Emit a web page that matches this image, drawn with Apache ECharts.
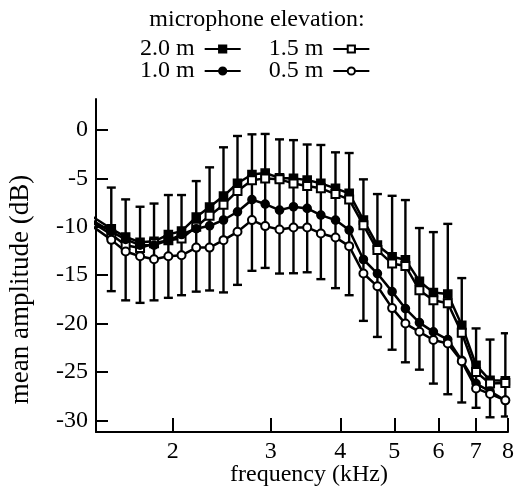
<!DOCTYPE html>
<html>
<head>
<meta charset="utf-8">
<script src="https://cdn.jsdelivr.net/npm/echarts@6/dist/echarts.min.js"></script>
<style>
html,body{margin:0;padding:0;background:#fff;}
#chart{width:514px;height:489px;}
</style>
</head>
<body>
<div id="chart"></div>
<script>
// frequencies (kHz) of the measurement points; first one lies just left of the axis
const freqs = [1.44, 1.552, 1.647, 1.748, 1.852, 1.965, 2.075, 2.205, 2.330, 2.468, 2.615, 2.776, 2.932, 3.111, 3.296,
  3.488, 3.691, 3.921, 4.149, 4.401, 4.663, 4.955, 5.235, 5.547, 5.877, 6.237, 6.608, 7.011, 7.428, 7.913];
const elev20 = [-9.0, -10.2, -11.05, -11.6, -11.5, -10.8, -10.45, -9.0, -7.95, -6.83, -5.5, -4.6, -4.45, -4.95, -5.0,
  -5.17, -5.52, -6.03, -6.55, -9.31, -11.9, -13.1, -13.4, -15.62, -16.8, -16.95, -20.17, -24.3, -25.86, -25.9];
const elev15 = [-9.6, -10.8, -11.9, -12.2, -11.7, -11.4, -11.2, -10.0, -8.85, -7.72, -6.3, -5.2, -5.0, -5.1, -5.52,
  -5.79, -6.03, -6.62, -7.17, -9.83, -12.41, -13.8, -14.05, -16.55, -17.6, -17.9, -20.96, -25.0, -26.2, -26.15];
const elev10 = [-9.4, -10.5, -11.3, -11.9, -11.9, -11.4, -10.8, -10.2, -9.9, -9.3, -8.45, -7.2, -7.65, -8.28, -7.93,
  -8.1, -8.79, -9.31, -10.34, -13.38, -14.83, -16.7, -18.45, -19.9, -20.86, -21.65, -23.8, -26.2, -27.0, -27.93];
const elev05 = [-10.0, -11.35, -12.55, -13.05, -13.35, -13.05, -12.95, -12.15, -12.15, -11.38, -10.52, -9.31, -9.93, -10.28, -10.07,
  -10.07, -10.69, -11.1, -12.0, -14.83, -16.15, -18.4, -20.0, -20.85, -21.7, -22.05, -23.9, -26.7, -27.27, -27.93];
// error bars (for the visible points, index 1..29)
const errHigh = [-5.95, -7.17, -7.93, -7.6, -6.72, -6.72, -5.28, -3.86, -1.79, -0.62, -0.45, -0.41, -0.97, -1.05, -1.5,
  -1.55, -2.31, -2.38, -5.1, -6.62, -6.8, -7.24, -10.13, -10.55, -9.7, -15.3, -20.5, -21.65, -21.0];
const errLow = [-16.65, -17.6, -17.86, -17.6, -17.34, -17.07, -16.7, -16.58, -16.78, -16.0, -14.55, -14.25, -14.83, -14.8, -14.7,
  -15.41, -16.34, -17.07, -19.72, -21.38, -22.7, -24.0, -24.76, -26.2, -27.3, -28.15, -28.7, -29.68, -29.6];
const xTicks = [2, 3, 4, 5, 6, 7, 8];
const yTicks = [-30, -25, -20, -15, -10, -5, 0];
const seriesNames = ['2.0 m', '1.5 m', '1.0 m', '0.5 m'];

const FONT = "'Liberation Serif', 'Times New Roman', serif";
const FS = 24;

function pairs(vals) { return freqs.map((f, i) => [f, vals[i]]); }
const errData = errHigh.map((h, i) => [freqs[i + 1], errLow[i], h]);

function lineSeries(name, vals, symbol, size) {
  return {
    type: 'line', name: name, data: pairs(vals), z: 3,
    symbol: symbol, symbolSize: size, showAllSymbol: true, clip: true,
    lineStyle: { color: '#000', width: 2.5 },
    itemStyle: { color: '#000', borderColor: '#000', borderWidth: 1.6 },
    emphasis: { disabled: true }
  };
}

const chart = echarts.init(document.getElementById('chart'), null, { renderer: 'canvas' });
chart.setOption({
  animation: false,
  backgroundColor: '#fff',
  title: {
    text: 'microphone elevation:', left: 'center', top: 8, padding: 0,
    textStyle: { fontFamily: FONT, fontSize: FS, fontWeight: 'normal', color: '#000' }
  },
  legend: [
    { data: ['2.0 m', '1.5 m'], left: 140, top: 37, padding: 0, align: 'right', itemGap: 27,
      itemWidth: 36, itemHeight: 9, selectedMode: false,
      textStyle: { fontFamily: FONT, fontSize: FS, color: '#000', padding: [0, 5, 0, 0] } },
    { data: ['1.0 m', '0.5 m'], left: 140, top: 59, padding: 0, align: 'right', itemGap: 27,
      itemWidth: 36, itemHeight: 9, selectedMode: false,
      textStyle: { fontFamily: FONT, fontSize: FS, color: '#000', padding: [0, 5, 0, 0] } }
  ],
  grid: { left: 96, right: 6, top: 99, bottom: 57, containLabel: false, outerBoundsMode: 'none' },
  xAxis: {
    type: 'log', min: 1.457, max: 8,
    name: 'frequency (kHz)', nameLocation: 'middle', nameGap: 31, nameMoveOverlap: false,
    nameTextStyle: { fontFamily: FONT, fontSize: FS, color: '#000', padding: [0, 0, 0, 14] },
    axisLine: { show: true, onZero: false, lineStyle: { color: '#000', width: 2 } },
    axisTick: { show: true, inside: true, length: 14, lineStyle: { color: '#000', width: 2 }, customValues: xTicks },
    axisLabel: { fontFamily: FONT, fontSize: FS, color: '#000', margin: 8, customValues: xTicks },
    splitLine: { show: false }, minorTick: { show: false }
  },
  yAxis: {
    type: 'value', min: -31.2, max: 3.2,
    name: 'mean amplitude (dB)', nameLocation: 'middle', nameGap: 62, nameRotate: 90, nameMoveOverlap: false,
    nameTextStyle: { fontFamily: FONT, fontSize: 27, color: '#000', padding: [0, 48, 0, 0] },
    axisLine: { show: true, onZero: false, lineStyle: { color: '#000', width: 2 } },
    axisTick: { show: true, inside: true, length: 12, lineStyle: { color: '#000', width: 2 }, customValues: yTicks },
    axisLabel: { fontFamily: FONT, fontSize: FS, color: '#000', margin: 8, customValues: yTicks },
    splitLine: { show: false }
  },
  series: [
    {
      type: 'custom', name: 'sd', data: errData, z: 1, clip: true,
      encode: { x: 0, y: [1, 2] },
      renderItem: function (params, api) {
        const x = api.value(0);
        const pLo = api.coord([x, api.value(1)]);
        const pHi = api.coord([x, api.value(2)]);
        const w = 4.5;
        const st = { stroke: '#000', lineWidth: 2.4 };
        return { type: 'group', children: [
          { type: 'line', shape: { x1: pHi[0], y1: pHi[1], x2: pLo[0], y2: pLo[1] }, style: st },
          { type: 'line', shape: { x1: pHi[0] - w, y1: pHi[1], x2: pHi[0] + w, y2: pHi[1] }, style: st },
          { type: 'line', shape: { x1: pLo[0] - w, y1: pLo[1], x2: pLo[0] + w, y2: pLo[1] }, style: st }
        ] };
      }
    },
    lineSeries(seriesNames[0], elev20, 'rect', 8),
    lineSeries(seriesNames[1], elev15, 'emptyRect', 8),
    lineSeries(seriesNames[2], elev10, 'circle', 8),
    lineSeries(seriesNames[3], elev05, 'emptyCircle', 8)
  ]
});
</script>
</body>
</html>
